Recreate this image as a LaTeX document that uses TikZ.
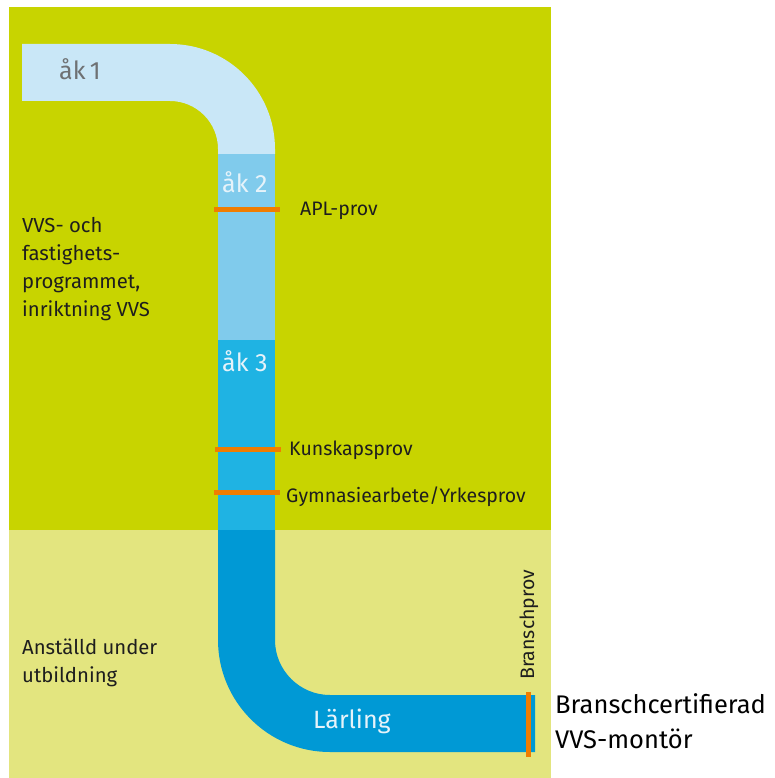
\documentclass[tikz,border=0pt]{standalone}
\usepackage{fontspec}
\setmainfont{Fira Sans}
\definecolor{bggreen}{HTML}{C8D400}
\definecolor{bgyellow}{HTML}{E3E57F}
\definecolor{pipeA}{HTML}{C9E7F7}
\definecolor{pipeB}{HTML}{80CBEC}
\definecolor{pipeC}{HTML}{1FB3E3}
\definecolor{pipeD}{HTML}{0099D5}
\definecolor{barorange}{HTML}{F07D00}
\definecolor{txtdark}{HTML}{1E1E1E}
\definecolor{txtgray}{HTML}{6E7173}
\definecolor{txtlight}{HTML}{E6F3FA}
\begin{document}
\begin{tikzpicture}[x=1pt,y=-1pt,
  lbl/.style={anchor=base west,inner sep=0pt,text=txtdark,font=\fontsize{19.5}{22}\selectfont},
  side/.style={anchor=base west,inner sep=0pt,text=txtdark,align=left,font=\fontsize{20.3}{28}\selectfont},
  stage/.style={anchor=base west,inner sep=0pt,font=\fontsize{25}{28}\selectfont},
  bar/.style={draw=barorange,line width=5pt}]
\useasboundingbox (0,0) rectangle (774,778);
% backgrounds
\fill[bggreen] (9,7) rectangle (551,530);
\fill[bgyellow] (9,530) rectangle (551,778);
% pipe sections
\fill[pipeA] (22,44) -- (170,44) arc(-90:0:105) -- (275,154) -- (218,154) -- (218,149) arc(0:-90:48) -- (22,101) -- cycle;
\fill[pipeB] (218,154) rectangle (275,340);
\fill[pipeC] (218,340) rectangle (275,530);
\fill[pipeD] (218,530) -- (218,640) arc(180:90:112) -- (535,752) -- (535,695) -- (330,695) arc(90:180:55) -- (275,530) -- cycle;
% exam bars
\coordinate (apl1) at (214,209); \coordinate (apl2) at (280,209);
\coordinate (kun1) at (215,449); \coordinate (kun2) at (281,449);
\coordinate (gym1) at (214,492); \coordinate (gym2) at (280,492);
\coordinate (br1) at (528,692); \coordinate (br2) at (528,757);
\draw[bar] (apl1) -- (apl2);
\draw[bar] (kun1) -- (kun2);
\draw[bar] (gym1) -- (gym2);
\draw[bar] (br1) -- (br2);
% stage labels
\node[stage,text=txtgray] (ak1) at (59,80) {åk\,1};
\node[stage,text=txtlight] (ak2) at (222,193) {åk 2};
\node[stage,text=txtlight] (ak3) at (222,371) {åk 3};
\node[stage,text=txtlight] (larl) at (313,728) {Lärling};
% exam labels
\node[lbl] (apl) at (300,215) {APL-prov};
\node[lbl] (kun) at (289,455) {Kunskapsprov};
\node[lbl] (gym) at (286,502) {Gymnasiearbete/Yrkesprov};
\node[lbl,rotate=90] (bran) at (534,680) {Branschprov};
% side texts
\node[side] (prog) at (22,316) {VVS- och\\fastighets-\\programmet,\\inriktning VVS};
\node[side] (anst) at (22,682) {Anställd under\\utbildning};
\node[anchor=base west,inner sep=0pt,text=black,align=left,font=\fontsize{25.5}{35}\selectfont] (cert) at (555,748) {Branschcertifierad\\VVS-montör};
\end{tikzpicture}
\end{document}
